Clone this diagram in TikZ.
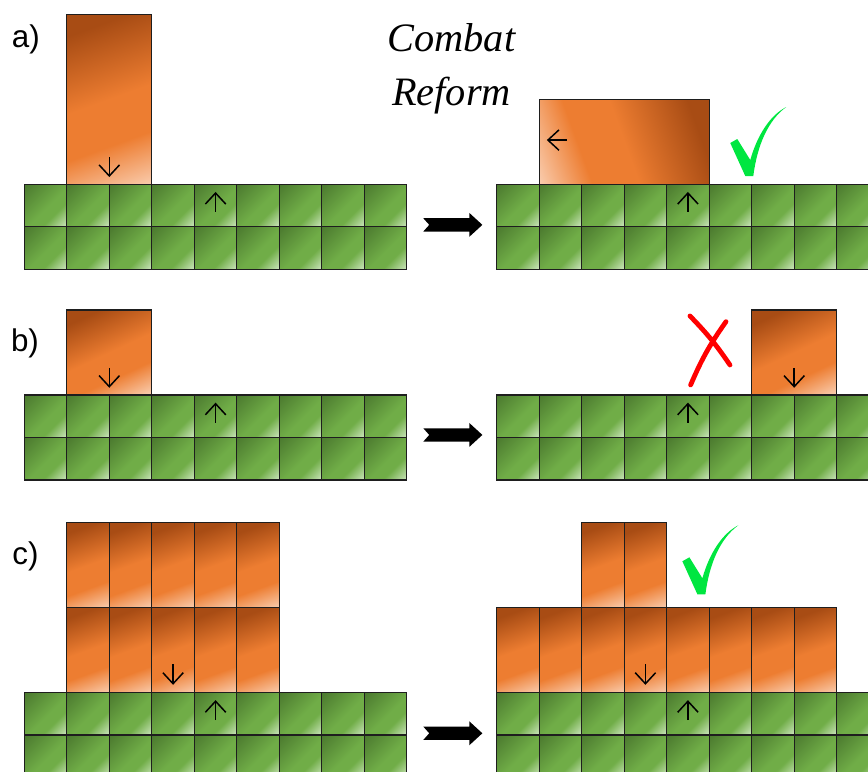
\documentclass[tikz,border=0pt]{standalone}
\usepackage{fontspec}
\newfontfamily\panelfont{Liberation Sans}
\newfontfamily\notefont{Liberation Serif}
\usetikzlibrary{arrows.meta}
\definecolor{grassdark}{RGB}{74,120,46}
\definecolor{grassmid}{RGB}{112,173,71}
\definecolor{grasslight}{RGB}{208,232,194}
\definecolor{claydark}{RGB}{168,76,20}
\definecolor{claymid}{RGB}{237,125,49}
\definecolor{claylight}{RGB}{250,208,180}
\definecolor{tickgreen}{RGB}{0,230,64}
\definecolor{edgegray}{RGB}{30,30,30}
\pgfdeclareverticalshading{grassshade}{100bp}{color(0bp)=(grasslight);
  color(14bp)=(grasslight); color(35bp)=(grassmid); color(47bp)=(grassmid);
  color(86bp)=(grassdark); color(100bp)=(grassdark)}
\pgfdeclareverticalshading{clayshade}{100bp}{color(0bp)=(claylight);
  color(17bp)=(claylight); color(35bp)=(claymid); color(50bp)=(claymid);
  color(75bp)=(claydark); color(100bp)=(claydark)}
\tikzset{
  cell/.style={draw=edgegray, line width=0.9pt, shade, shading=grassshade,
               shading angle=45},
  clay/.style={draw=edgegray, line width=0.9pt, shade, shading=clayshade,
               shading angle=20},
  dirarr/.style={-{Straight Barb[length=2.6mm,width=4.8mm]}, line width=1pt},
  panel/.style={font=\panelfont\fontsize{21}{25}\selectfont},
  note/.style={font=\notefont\itshape\fontsize{27}{36}\selectfont, align=center},
  pics/field/.style={code={
    \foreach \i in {0,...,8}
      \foreach \j in {0,1}
        \path[cell] (\i,-\j) rectangle ++(1,-1);
  }},
  pics/fatarrow/.style={code={
    \fill (-0.695,0.157) -- (-0.555,0) -- (-0.695,-0.157) -- (0.387,-0.157)
      -- (0.387,-0.282) -- (0.695,0) -- (0.387,0.282) -- (0.387,0.157) -- cycle;
  }},
  pics/tick/.style={code={
    \fill[tickgreen] (-0.424,0.753) -- (-0.259,0.847) -- (0.047,0.353)
      .. controls (0.212,0.941) and (0.518,1.412) .. (0.894,1.6)
      .. controls (0.471,1.294) and (0.212,0.706) .. (0.118,-0.024)
      -- (-0.071,-0.024) -- cycle;
  }}
}
\begin{document}
\begin{tikzpicture}
  \useasboundingbox (0,0) rectangle (20.424,-18.165);
  \clip (0,0) rectangle (20.424,-18.165);

  \node[panel] (laba) at (0.607,-0.918) {a)};
  \node[panel] (labb) at (0.588,-8.08) {b)};
  \node[panel] (labc) at (0.6,-13.09) {c)};
  \node[note] (title) at (10.624,-1.62) {Combat\\Reform};

  % a) falling block turns over
  \begin{scope}[yshift=-4.336cm]
    \pic at (0.572,0) {field};
    \pic at (11.687,0) {field};
    \path[clay] (1.572,0) rectangle (3.572,4);
    \path[clay, shading angle=-70] (12.687,0) rectangle (16.687,2);
    \draw[dirarr] (2.572,0.64) -- (2.572,0.17);
    \draw[dirarr] (5.072,-0.65) -- (5.072,-0.18);
    \draw[dirarr] (16.187,-0.65) -- (16.187,-0.18);
    \draw[dirarr] (13.337,1.04) -- (12.867,1.04);
    \pic at (10.655,-0.955) {fatarrow};
    \pic at (17.607,0.218) {tick};
  \end{scope}

  % b) block slides away
  \begin{scope}[yshift=-9.294cm]
    \pic at (0.572,0) {field};
    \pic at (11.687,0) {field};
    \path[clay, shading angle=25] (1.572,0) rectangle (3.572,2);
    \path[clay, shading angle=25] (17.687,0) rectangle (19.687,2);
    \draw[dirarr] (2.572,0.64) -- (2.572,0.17);
    \draw[dirarr] (5.072,-0.65) -- (5.072,-0.18);
    \draw[dirarr] (16.187,-0.65) -- (16.187,-0.18);
    \draw[dirarr] (18.687,0.64) -- (18.687,0.17);
    \pic at (10.655,-0.94) {fatarrow};
    \draw[red, line width=3.2pt, line cap=round]
      (16.235,1.859) to[bend left=5] (17.176,0.706)
      (17.082,1.725) to[bend right=6] (16.25,0.235);
  \end{scope}

  % c) stacked columns spread out
  \begin{scope}[yshift=-16.294cm]
    \pic at (0.572,0) {field};
    \pic at (11.687,0) {field};
    \foreach \i in {1,...,5} {
      \path[clay] (0.572+\i,0) rectangle ++(1,2);
      \path[clay] (0.572+\i,2) rectangle ++(1,2);
    }
    \foreach \i in {0,...,7}
      \path[clay] (11.687+\i,0) rectangle ++(1,2);
    \foreach \i in {2,3}
      \path[clay] (11.687+\i,2) rectangle ++(1,2);
    \draw[dirarr] (4.072,0.66) -- (4.072,0.18);
    \draw[dirarr] (5.072,-0.65) -- (5.072,-0.18);
    \draw[dirarr] (15.187,0.66) -- (15.187,0.18);
    \draw[dirarr] (16.187,-0.65) -- (16.187,-0.18);
    \pic at (10.655,-0.96) {fatarrow};
    \pic at (16.48,2.334) {tick};
  \end{scope}
\end{tikzpicture}
\end{document}
